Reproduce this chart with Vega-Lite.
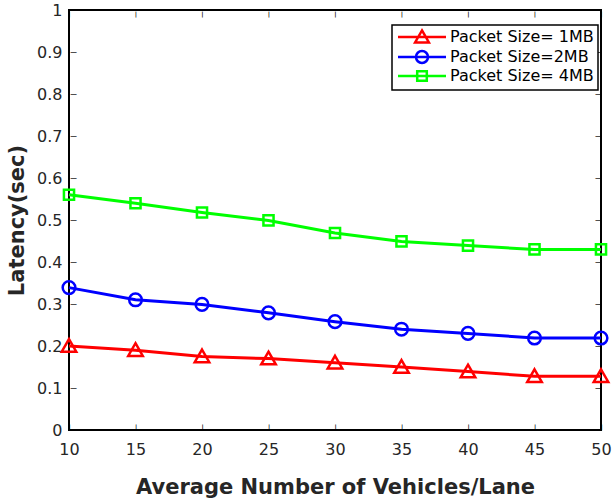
{
  "$schema": "https://vega.github.io/schema/vega-lite/v6.json",
  "width": 532,
  "height": 420,
  "autosize": {"type": "none"},
  "padding": {"left": 69, "top": 10, "right": 11, "bottom": 70},
  "background": "white",
  "config": {
    "view": {"stroke": "#000000", "strokeWidth": 2},
    "font": "DejaVu Sans",
    "axis": {
      "grid": false,
      "zindex": 1,
      "domain": false,
      "ticks": false,
      "tickSize": 0,
      "labelFlush": false,
      "labelOverlap": false,
      "labelFont": "DejaVu Sans",
      "labelFontSize": 16,
      "labelColor": "#262626",
      "titleFont": "DejaVu Sans",
      "titleFontSize": 21,
      "titleFontWeight": "bold",
      "titleColor": "#262626"
    }
  },
  "resolve": {"axis": {"x": "independent", "y": "independent"}},
  "data": {
    "values": [
      {"v": 10, "lat": 0.2, "s": "Packet Size= 1MB"},
      {"v": 15, "lat": 0.19, "s": "Packet Size= 1MB"},
      {"v": 20, "lat": 0.175, "s": "Packet Size= 1MB"},
      {"v": 25, "lat": 0.17, "s": "Packet Size= 1MB"},
      {"v": 30, "lat": 0.16, "s": "Packet Size= 1MB"},
      {"v": 35, "lat": 0.15, "s": "Packet Size= 1MB"},
      {"v": 40, "lat": 0.139, "s": "Packet Size= 1MB"},
      {"v": 45, "lat": 0.128, "s": "Packet Size= 1MB"},
      {"v": 50, "lat": 0.128, "s": "Packet Size= 1MB"},
      {"v": 10, "lat": 0.339, "s": "Packet Size=2MB"},
      {"v": 15, "lat": 0.31, "s": "Packet Size=2MB"},
      {"v": 20, "lat": 0.299, "s": "Packet Size=2MB"},
      {"v": 25, "lat": 0.279, "s": "Packet Size=2MB"},
      {"v": 30, "lat": 0.258, "s": "Packet Size=2MB"},
      {"v": 35, "lat": 0.24, "s": "Packet Size=2MB"},
      {"v": 40, "lat": 0.23, "s": "Packet Size=2MB"},
      {"v": 45, "lat": 0.219, "s": "Packet Size=2MB"},
      {"v": 50, "lat": 0.219, "s": "Packet Size=2MB"},
      {"v": 10, "lat": 0.56, "s": "Packet Size= 4MB"},
      {"v": 15, "lat": 0.54, "s": "Packet Size= 4MB"},
      {"v": 20, "lat": 0.518, "s": "Packet Size= 4MB"},
      {"v": 25, "lat": 0.499, "s": "Packet Size= 4MB"},
      {"v": 30, "lat": 0.469, "s": "Packet Size= 4MB"},
      {"v": 35, "lat": 0.449, "s": "Packet Size= 4MB"},
      {"v": 40, "lat": 0.439, "s": "Packet Size= 4MB"},
      {"v": 45, "lat": 0.43, "s": "Packet Size= 4MB"},
      {"v": 50, "lat": 0.43, "s": "Packet Size= 4MB"}
    ]
  },
  "layer": [
    {
      "mark": {"type": "line", "strokeWidth": 3},
      "encoding": {
        "x": {
          "field": "v", "type": "quantitative",
          "scale": {"domain": [10, 50], "nice": false, "zero": false},
          "axis": {
            "orient": "bottom",
            "values": [10, 15, 20, 25, 30, 35, 40, 45, 50],
            "labelPadding": 11,
            "title": "Average Number of Vehicles/Lane",
            "titleY": 57,
            "titleBaseline": "middle"
          }
        },
        "y": {
          "field": "lat", "type": "quantitative",
          "scale": {"domain": [0, 1], "nice": false},
          "axis": {
            "orient": "left",
            "values": [0, 0.1, 0.2, 0.3, 0.4, 0.5, 0.6, 0.7, 0.8, 0.9, 1],
            "format": "~g",
            "labelPadding": 7,
            "title": "Latency(sec)",
            "titleX": -52,
            "titleBaseline": "middle"
          }
        },
        "color": {
          "field": "s", "type": "nominal",
          "scale": {
            "domain": ["Packet Size= 1MB", "Packet Size=2MB", "Packet Size= 4MB"],
            "range": ["#ff0000", "#0000ff", "#00ff00"]
          },
          "legend": {
            "title": null,
            "orient": "none",
            "legendX": 323,
            "legendY": 15,
            "strokeColor": "#000000",
            "fillColor": "#ffffff",
            "padding": 4,
            "symbolSize": 144,
            "symbolOffset": 18,
            "symbolStrokeWidth": 2.5,
            "labelOffset": 20,
            "labelFont": "DejaVu Sans",
            "labelFontSize": 16,
            "labelColor": "#000000",
            "rowPadding": -2,
            "labelLimit": 300,
            "encode": {
              "legend": {"update": {"strokeWidth": {"value": 1.5}}},
              "symbols": {
                "update": {
                  "shape": {"signal": "datum.value === 'Packet Size= 1MB' ? 'M-4,0L4,0M0,-1.1L1.15,0.9L-1.15,0.9Z' : datum.value === 'Packet Size=2MB' ? 'M-4,0L4,0M1,0A1,1,0,1,1,-1,0A1,1,0,1,1,1,0' : 'M-4,0L4,0M-0.8,-0.8L0.8,-0.8L0.8,0.8L-0.8,0.8Z'"},
                  "fill": {"value": "transparent"},
                  "strokeWidth": {"value": 2.5}
                }
              }
            }
          }
        }
      }
    },
    {
      "transform": [{"filter": "datum.s === 'Packet Size= 1MB'"}],
      "mark": {"type": "point", "filled": false, "strokeWidth": 2.5, "size": 160, "opacity": 1, "shape": "M0,-1.1L1.15,0.9L-1.15,0.9Z"},
      "encoding": {
        "x": {
          "field": "v", "type": "quantitative",
          "axis": {"orient": "bottom", "values": [10, 15, 20, 25, 30, 35, 40, 45, 50], "title": null, "labelExpr": "'|'", "labelAngle": 0, "labelAlign": "center", "labelBaseline": "bottom", "labelPadding": -1, "labelFontSize": 6, "labelFontWeight": "bold", "labelColor": "#000000"}
        },
        "y": {
          "field": "lat", "type": "quantitative",
          "axis": {"orient": "left", "values": [0, 0.1, 0.2, 0.3, 0.4, 0.5, 0.6, 0.7, 0.8, 0.9, 1], "title": null, "labelExpr": "'|'", "labelAngle": 90, "labelAlign": "center", "labelBaseline": "bottom", "labelPadding": -1, "labelFontSize": 6, "labelFontWeight": "bold", "labelColor": "#000000"}
        },
        "color": {"field": "s", "type": "nominal", "legend": null}
      }
    },
    {
      "transform": [{"filter": "datum.s === 'Packet Size=2MB'"}],
      "mark": {"type": "point", "filled": false, "strokeWidth": 2.5, "size": 160, "opacity": 1, "shape": "M1,0A1,1,0,1,1,-1,0A1,1,0,1,1,1,0"},
      "encoding": {
        "x": {
          "field": "v", "type": "quantitative",
          "axis": {"orient": "top", "values": [10, 15, 20, 25, 30, 35, 40, 45, 50], "title": null, "labelExpr": "'|'", "labelAngle": 180, "labelAlign": "center", "labelBaseline": "bottom", "labelPadding": -1, "labelFontSize": 6, "labelFontWeight": "bold", "labelColor": "#000000"}
        },
        "y": {
          "field": "lat", "type": "quantitative",
          "axis": {"orient": "right", "values": [0, 0.1, 0.2, 0.3, 0.4, 0.5, 0.6, 0.7, 0.8, 0.9, 1], "title": null, "labelExpr": "'|'", "labelAngle": 270, "labelAlign": "center", "labelBaseline": "bottom", "labelPadding": -1, "labelFontSize": 6, "labelFontWeight": "bold", "labelColor": "#000000"}
        },
        "color": {"field": "s", "type": "nominal", "legend": null}
      }
    },
    {
      "transform": [{"filter": "datum.s === 'Packet Size= 4MB'"}],
      "mark": {"type": "point", "filled": false, "strokeWidth": 2.5, "size": 160, "opacity": 1, "shape": "M-0.8,-0.8L0.8,-0.8L0.8,0.8L-0.8,0.8Z"},
      "encoding": {
        "x": {"field": "v", "type": "quantitative", "axis": null},
        "y": {"field": "lat", "type": "quantitative", "axis": null},
        "color": {"field": "s", "type": "nominal", "legend": null}
      }
    }
  ]
}
